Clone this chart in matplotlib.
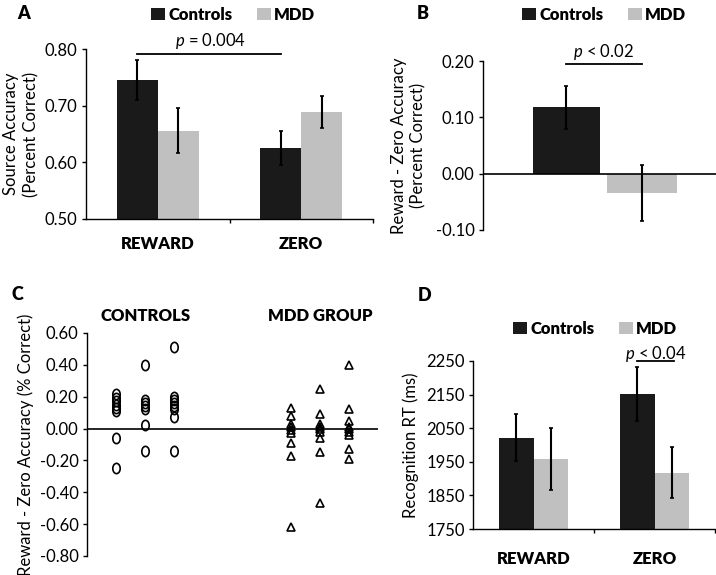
import numpy as np
import matplotlib
matplotlib.use("Agg")
import matplotlib.pyplot as plt
from matplotlib.path import Path
from matplotlib.transforms import Affine2D

plt.rcParams["font.family"] = ["Lato", "DejaVu Sans"]
plt.rcParams["axes.unicode_minus"] = False
plt.rcParams["mathtext.fontset"] = "custom"
plt.rcParams["mathtext.it"] = "Lato:italic"
plt.rcParams["mathtext.rm"] = "Lato"

# ---- data ----
groups = ["Controls", "MDD"]
conditions = ["REWARD", "ZERO"]

# A: source accuracy
acc_ctrl = [0.746, 0.626]
acc_ctrl_se = [0.035, 0.030]
acc_mdd = [0.656, 0.689]
acc_mdd_se = [0.040, 0.029]

# B: reward - zero difference
diff_mean = [0.118, -0.034]
diff_se = [0.038, 0.050]

# C: individual differences, three columns per group
ctrl_cols = [
    [0.22, 0.19, 0.17, 0.15, 0.13, 0.11, -0.06, -0.25],
    [0.40, 0.18, 0.16, 0.14, 0.12, 0.02, -0.14],
    [0.51, 0.20, 0.18, 0.16, 0.14, 0.12, 0.07, -0.14],
]
mdd_cols = [
    [0.13, 0.08, 0.03, 0.01, -0.01, -0.03, -0.09, -0.17, -0.62],
    [0.25, 0.09, 0.03, 0.01, 0.00, -0.02, -0.06, -0.15, -0.47],
    [0.40, 0.12, 0.05, 0.01, 0.00, -0.02, -0.04, -0.13, -0.19],
]
ctrl_x = [1, 2, 3]
mdd_x = [7, 8, 9]

# D: recognition RT
rt_ctrl = [2022, 2152]
rt_ctrl_se = [71, 80]
rt_mdd = [1959, 1918]
rt_mdd_se = [92, 76]

DARK = "#1a1a1a"
LIGHT = "#c0c0c0"
FS = 12
BOLD = "heavy"
W, H = 716, 575

fig = plt.figure(figsize=(W / 100, H / 100), dpi=100)


def px_axes(left, top, right, bottom):
    return fig.add_axes([left / W, 1 - bottom / H, (right - left) / W, (bottom - top) / H])


def style_axes(ax):
    for s in ["top", "right"]:
        ax.spines[s].set_visible(False)
    ax.tick_params(axis="y", direction="out", length=3, width=1, labelsize=FS, pad=3)
    ax.spines["left"].set_linewidth(1)
    ax.spines["bottom"].set_linewidth(1)


def fmt2(vals):
    return [f"{v:.2f}".replace("-0.00", "0.00") for v in vals]


def legend(ax, handles, x, y):
    ax.legend(handles, groups, loc="upper left", bbox_to_anchor=(x / W, 1 - y / H),
              bbox_transform=fig.transFigure, ncol=2, frameon=False, borderpad=0,
              borderaxespad=0, handlelength=0.85, handleheight=0.7, handletextpad=0.2,
              columnspacing=1.45, prop={"weight": BOLD, "size": FS})


def grouped_bars(ax, c, cse, m, mse, bw=0.287):
    x = np.arange(len(conditions)) + 0.5
    ek = dict(elinewidth=1.5, capsize=1.5, capthick=1.2, ecolor="black")
    b1 = ax.bar(x - bw / 2, c, bw, yerr=cse, color=DARK, error_kw=ek)
    b2 = ax.bar(x + bw / 2, m, bw, yerr=mse, color=LIGHT, error_kw=ek)
    ax.set_xlim(0, 2)
    ax.set_xticks([1, 2])
    ax.set_xticklabels([])
    ax.tick_params(axis="x", which="major", direction="out", length=3, width=1)
    ax.set_xticks(x, minor=True)
    ax.set_xticklabels(conditions, minor=True, fontweight=BOLD, fontsize=FS)
    return b1, b2, x


# ---- A ----
axA = px_axes(86, 49.3, 373, 219)
style_axes(axA)
b1, b2, xa = grouped_bars(axA, acc_ctrl, acc_ctrl_se, acc_mdd, acc_mdd_se)
axA.tick_params(axis="x", which="minor", length=0, pad=12)
axA.set_ylim(0.5, 0.8)
ya = [0.5, 0.6, 0.7, 0.8]
axA.set_yticks(ya)
axA.set_yticklabels(fmt2(ya))
axA.set_ylabel("Source Accuracy\n(Percent Correct)", fontsize=FS, labelpad=4,
               linespacing=1.3)
xs = [xa[0] - 0.1435, xa[1] - 0.1435]
axA.plot(xs, [0.791, 0.791], color="black", lw=1.3, clip_on=False)
axA.text(0.864, 0.797, "$p$ = 0.004", ha="center", va="bottom", fontsize=FS, clip_on=False)
legend(axA, [b1, b2], 151, 7)
fig.text(17 / W, 1 - 5 / H, "A", fontsize=13, fontweight=BOLD, va="top")

# ---- B ----
axB = px_axes(483, 61, 716, 230)
style_axes(axB)
axB.spines["bottom"].set_visible(False)
bpos = [0.358, 0.682]
ek = dict(elinewidth=1.5, capsize=1.5, capthick=1.2, ecolor="black")
c1 = axB.bar(bpos[0], diff_mean[0], 0.288, yerr=diff_se[0], color=DARK, error_kw=ek)
c2 = axB.bar(bpos[1], diff_mean[1], 0.30, yerr=diff_se[1], color=LIGHT, error_kw=ek)
axB.axhline(0, color="black", lw=1.2)
axB.set_xlim(0, 1)
axB.set_xticks([])
axB.set_ylim(-0.1, 0.2)
yb = [-0.1, 0.0, 0.1, 0.2]
axB.set_yticks(yb)
axB.set_yticklabels(fmt2(yb))
axB.set_ylabel("Reward - Zero Accuracy\n(Percent Correct)", fontsize=FS, labelpad=7,
               linespacing=1.25)
axB.plot(bpos, [0.195, 0.195], color="black", lw=1.3, clip_on=False)
axB.text(0.515, 0.199, "$p$ < 0.02", ha="center", va="bottom", fontsize=FS, clip_on=False)
legend(axB, [c1, c2], 522, 7)
fig.text(417 / W, 1 - 5 / H, "B", fontsize=13, fontweight=BOLD, va="top")

# ---- C ----
axC = px_axes(87, 333, 378, 556)
style_axes(axC)
axC.spines["bottom"].set_visible(False)
ell = Path.unit_circle().transformed(Affine2D().scale(0.72, 1.0))
for xv, col in zip(ctrl_x, ctrl_cols):
    axC.plot([xv] * len(col), col, ls="none", marker=ell, ms=7.4, mfc="none",
             mec="black", mew=1.2)
for xv, col in zip(mdd_x, mdd_cols):
    axC.plot([xv] * len(col), col, ls="none", marker="^", ms=6.2, mfc="none",
             mec="black", mew=1.2)
axC.axhline(0, color="black", lw=1.2)
axC.set_xlim(0, 10)
axC.set_xticks([])
axC.set_ylim(-0.8, 0.6)
cticks = np.round(np.arange(-0.8, 0.61, 0.2), 2)
axC.set_yticks(cticks)
axC.set_yticklabels(fmt2(cticks))
axC.set_ylabel("Reward - Zero Accuracy (% Correct)", fontsize=FS, labelpad=4)
axC.text(2, 0.707, "CONTROLS", ha="center", va="center", fontsize=FS, fontweight=BOLD,
         clip_on=False)
axC.text(8, 0.707, "MDD GROUP", ha="center", va="center", fontsize=FS, fontweight=BOLD,
         clip_on=False)
fig.text(12 / W, 1 - 286 / H, "C", fontsize=13, fontweight=BOLD, va="top")

# ---- D ----
axD = px_axes(473, 361, 715, 529)
style_axes(axD)
d1, d2, xd = grouped_bars(axD, rt_ctrl, rt_ctrl_se, rt_mdd, rt_mdd_se, bw=0.288)
axD.tick_params(axis="x", which="minor", length=0, pad=16)
axD.set_ylim(1750, 2250)
axD.set_yticks(np.arange(1750, 2251, 100))
axD.set_ylabel("Recognition RT (ms)", fontsize=FS, labelpad=5)
axD.plot([xd[1] - 0.144, xd[1] + 0.165], [2250, 2250], color="black", lw=1.3, clip_on=False)
axD.text(1.512, 2257, "$p$ < 0.04", ha="center", va="baseline", fontsize=FS, clip_on=False)
legend(axD, [d1, d2], 513, 321)
fig.text(418 / W, 1 - 287 / H, "D", fontsize=13, fontweight=BOLD, va="top")

fig.savefig("out.png", dpi=100)
